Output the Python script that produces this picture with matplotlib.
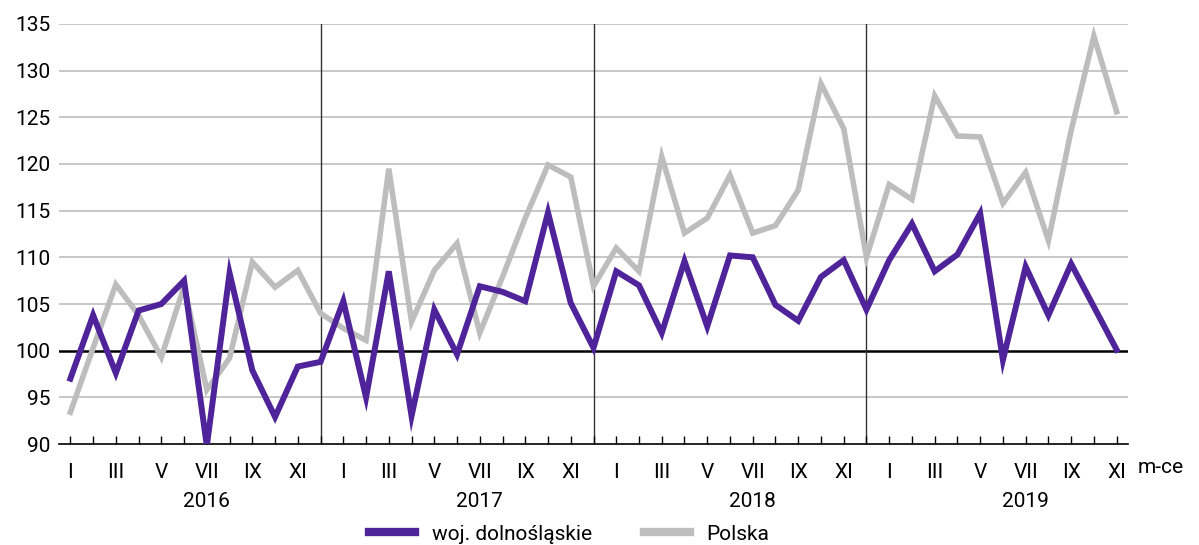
import matplotlib.pyplot as plt
import matplotlib.transforms as mtransforms

plt.rcParams['font.family'] = ['Roboto', 'DejaVu Sans']

# === DATA ===
years = ['2016', '2017', '2018', '2019']
month_labels = ['I', '', 'III', '', 'V', '', 'VII', '', 'IX', '', 'XI', '']
n_months = 47  # I 2016 .. XI 2019

dolnoslaskie = [97.0, 103.8, 97.6, 104.3, 105.0, 107.5, 89.8, 108.3, 97.9, 92.9, 98.3, 98.8,
                105.3, 95.0, 108.5, 93.0, 104.4, 99.6, 106.9, 106.3, 105.3, 114.8, 105.1, 100.3,
                108.5, 107.0, 101.9, 109.6, 102.6, 110.2, 110.0, 104.9, 103.2, 107.9, 109.7, 104.4,
                109.7, 113.6, 108.5, 110.3, 114.7, 99.0, 109.0, 103.8, 109.3, 104.7, 100.1]
polska = [93.4, 100.3, 107.1, 103.8, 99.3, 106.9, 95.8, 99.2, 109.5, 106.8, 108.6, 104.0,
          102.4, 101.1, 119.5, 103.1, 108.6, 111.5, 101.9, 107.9, 114.2, 119.9, 118.6, 106.9,
          111.0, 108.5, 120.8, 112.6, 114.2, 118.8, 112.6, 113.4, 117.2, 128.6, 123.8, 110.0,
          117.8, 116.2, 127.3, 123.0, 122.9, 115.8, 119.1, 111.8, 123.6, 133.7, 125.6]

x = list(range(n_months))

# === FIGURE ===
fig = plt.figure(figsize=(11.99, 5.45), dpi=100)
ax = fig.add_axes([0.0492, 0.1853, 0.8916, 0.7707])

for v in range(90, 140, 5):
    if v == 100:
        ax.axhline(v, color='black', lw=1.8, zorder=1)
    elif v > 90:
        ax.axhline(v, color='#bdbdbd', lw=1.2, zorder=0)

for sep in [11, 23, 35]:
    ax.axvline(sep, color='#333333', lw=1.0, zorder=1)

l_pl, = ax.plot(x, polska, color='#bdbdbd', lw=4.0, label='Polska', zorder=2,
                solid_joinstyle='miter')
l_ds, = ax.plot(x, dolnoslaskie, color='#4f2399', lw=4.3, label='woj. dolnośląskie', zorder=3,
                solid_joinstyle='miter')

ax.set_xlim(-0.5, 46.5)
ax.set_ylim(90, 135)
ax.set_yticks(range(90, 140, 5))
ax.tick_params(axis='y', length=0, labelsize=15, pad=6)

ax.set_xticks(x)
ax.set_xticklabels([month_labels[i % 12] for i in x])
ax.tick_params(axis='x', direction='in', length=6, width=1, labelsize=15, pad=14, color='black')

for s in ['left', 'right', 'top']:
    ax.spines[s].set_visible(False)
ax.spines['bottom'].set_color('black')
ax.spines['bottom'].set_linewidth(1.2)

trans = mtransforms.blended_transform_factory(ax.transData, ax.transAxes)
for k, yr in enumerate(years):
    ax.text(6 + 12 * k, -0.138, yr, transform=trans, ha='center', va='center', fontsize=15)

ax.text(1.0 + 10 / 1069, -0.055, 'm-ce', transform=ax.transAxes, ha='left', va='center',
        fontsize=15)

leg = fig.legend([l_ds, l_pl], ['woj. dolnośląskie', 'Polska'], loc='center',
                 bbox_to_anchor=(0.475, 0.02), ncol=2, frameon=False, fontsize=15,
                 handlelength=2.2, columnspacing=2.5)
for h in leg.legend_handles:
    h.set_linewidth(6)

fig.savefig('out.png', dpi=100)
